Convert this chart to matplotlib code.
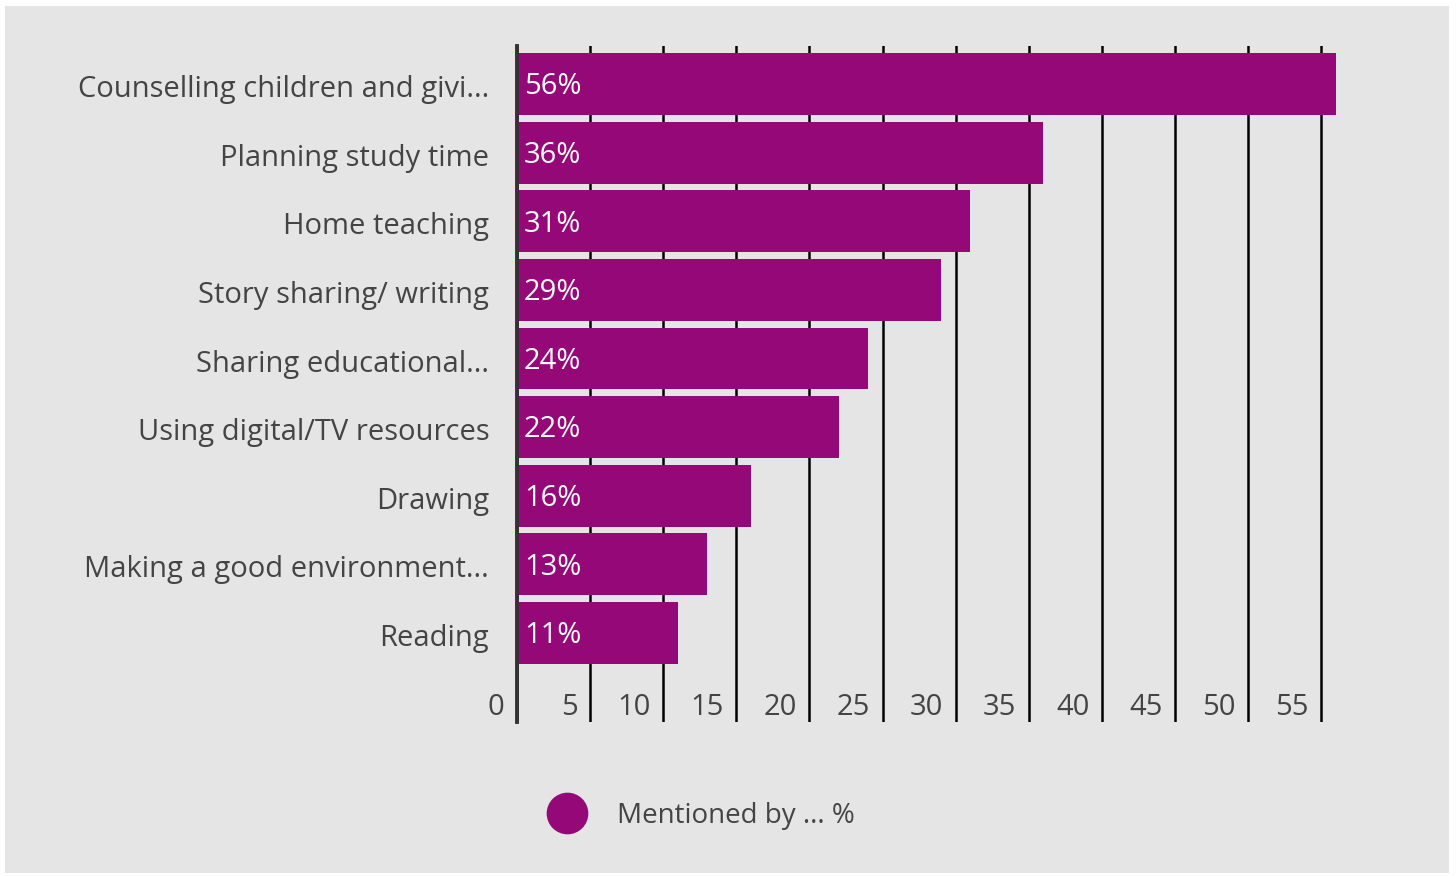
import matplotlib.pyplot as plt
from matplotlib.patches import Rectangle
from matplotlib.lines import Line2D
from matplotlib.transforms import ScaledTranslation
import numpy as np

categories = [
    "Counselling children and givi...",
    "Planning study time",
    "Home teaching",
    "Story sharing/ writing",
    "Sharing educational...",
    "Using digital/TV resources",
    "Drawing",
    "Making a good environment...",
    "Reading",
]
values = [56, 36, 31, 29, 24, 22, 16, 13, 11]
x_ticks = list(range(0, 60, 5))
legend_label = "Mentioned by ... %"

purple = "#950878"
bg = "#e5e5e5"
text_color = "#444444"

plt.rcParams["font.family"] = ["Open Sans", "DejaVu Sans"]

W, H = 1456, 876
fig = plt.figure(figsize=(W / 100, H / 100), dpi=100)
fig.patch.set_facecolor("white")
# grey panel inside a thin white border
fig.patches.append(
    Rectangle((5 / W, 1 - 873 / H), (1449 - 5) / W, (873 - 6) / H,
              transform=fig.transFigure, facecolor=bg, edgecolor="none", zorder=-10)
)

unit = 14.62
x0 = 517
xmax = 58
ax_top, ax_bot = 46, 722
ax = fig.add_axes([x0 / W, 1 - ax_bot / H, xmax * unit / W, (ax_bot - ax_top) / H])
ax.set_facecolor("none")

y = np.arange(len(categories))
ax.barh(y, values, height=0.9, color=purple, zorder=3)
ax.set_xlim(0, xmax)
ax.set_ylim(8 + 1.297, -0.554)

# vertical grid lines
ax.set_xticks(x_ticks)
ax.xaxis.grid(True, color="black", linewidth=1.8, zorder=1)
ax.set_axisbelow(True)
ax.tick_params(axis="x", length=0, labelbottom=False)

ax.set_yticks(y)
ax.set_yticklabels(categories, fontsize=21, color=text_color)
ax.tick_params(axis="y", length=0, pad=20)
shift = ScaledTranslation(0, -2 / 100, fig.dpi_scale_trans)
for lbl in ax.get_yticklabels():
    lbl.set_transform(lbl.get_transform() + shift)

for s in ["top", "right", "bottom"]:
    ax.spines[s].set_visible(False)
ax.spines["left"].set_color("#333333")
ax.spines["left"].set_linewidth(2.8)
ax.spines["left"].set_zorder(4)

# x tick labels sit just left of each grid line
for t in x_ticks:
    ax.annotate(str(t), xy=(t, 9.06), xytext=(-9, -1), textcoords="offset points",
                ha="right", va="center", fontsize=21, color=text_color)

# value labels inside the bars
for yi, v in zip(y, values):
    ax.annotate(f"{v}%", xy=(0, yi), xytext=(5, -2), textcoords="offset points",
                ha="left", va="center", fontsize=21, color="white", zorder=5)

handle = Line2D([], [], marker="o", linestyle="none", markersize=30,
                markerfacecolor=purple, markeredgecolor="none")
leg = fig.legend([handle], [legend_label], loc="center",
                 bbox_to_anchor=(697 / W, 1 - 816 / H), frameon=False,
                 fontsize=20, handletextpad=0.83, labelcolor=text_color)

fig.savefig("out.png", dpi=100, facecolor="white")
